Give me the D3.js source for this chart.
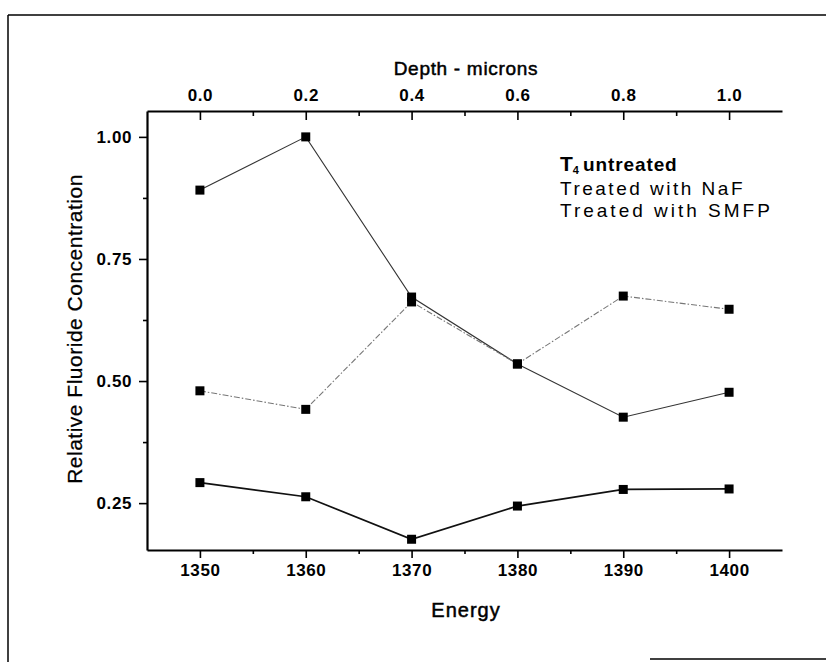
<!DOCTYPE html>
<html>
<head>
<meta charset="utf-8">
<script src="https://cdn.jsdelivr.net/npm/d3@7"></script>
<style>
  html, body { margin: 0; padding: 0; background: #fff; }
  svg { display: block; }
  text { font-family: "Liberation Sans", Arial, Helvetica, sans-serif; fill: #000; }
</style>
</head>
<body>
<svg id="chart" width="826" height="662"></svg>
<script>
// ---- data ----
const energy = [1350, 1360, 1370, 1380, 1390, 1400];
const seriesUpper  = [0.891, 1.000, 0.672, 0.535, 0.426, 0.477];
const seriesMiddle = [0.480, 0.442, 0.662, 0.535, 0.674, 0.647];
const seriesLower  = [0.292, 0.263, 0.176, 0.244, 0.278, 0.279];
const legendLabels = ["untreated", "Treated with NaF", "Treated with SMFP"];
const energyTicks = [1350, 1360, 1370, 1380, 1390, 1400];
const energyMinor = [1355, 1365, 1375, 1385, 1395];
const depthTicks = [0.0, 0.2, 0.4, 0.6, 0.8, 1.0];
const depthMinor = [0.1, 0.3, 0.5, 0.7, 0.9];
const concTicks = [0.25, 0.50, 0.75, 1.00];
const concMinor = [0.375, 0.625, 0.875];

const svg = d3.select("#chart");
const L = 147, R = 782, T = 111, B = 550;

const x = d3.scaleLinear().domain([1345, 1405]).range([L, R]);
const xTop = d3.scaleLinear().domain([-0.1, 1.1]).range([L, R]);
const y = d3.scaleLinear().domain([0.154, 1.053]).range([B, T]);

// outer frame (partial, as in the scanned figure)
const frame = svg.append("g").attr("stroke", "#000").attr("fill", "none");
frame.append("line").attr("x1", 8).attr("y1", 15).attr("x2", 826).attr("y2", 15).attr("stroke-width", 1.5);
frame.append("line").attr("x1", 8).attr("y1", 15).attr("x2", 8).attr("y2", 662).attr("stroke-width", 1.5);
frame.append("line").attr("x1", 650).attr("y1", 659).attr("x2", 826).attr("y2", 659).attr("stroke-width", 1.5);

const tickFont = g => g.selectAll("text")
  .style("font-size", "17px").style("font-weight", "bold").style("letter-spacing", "0.6px");

// bottom axis
svg.append("g").attr("transform", `translate(0,${B})`)
  .call(d3.axisBottom(x).tickValues(energyTicks).tickFormat(d3.format("d")).tickSize(8).tickSizeOuter(0).tickPadding(6))
  .call(tickFont);
svg.append("g").attr("transform", `translate(0,${B})`)
  .call(d3.axisBottom(x).tickValues(energyMinor).tickFormat("").tickSize(4).tickSizeOuter(0))
  .call(g => g.select(".domain").remove());

// top axis (ticks pointing down into plot)
svg.append("g").attr("transform", `translate(0,${T})`)
  .call(d3.axisTop(xTop).tickValues(depthTicks).tickFormat(d3.format(".1f")).tickSize(-9).tickSizeOuter(0).tickPadding(10))
  .call(tickFont);
svg.append("g").attr("transform", `translate(0,${T})`)
  .call(d3.axisTop(xTop).tickValues(depthMinor).tickFormat("").tickSize(-5).tickSizeOuter(0))
  .call(g => g.select(".domain").remove());

// left axis
svg.append("g").attr("transform", `translate(${L},0)`)
  .call(d3.axisLeft(y).tickValues(concTicks).tickFormat(d3.format(".2f")).tickSize(8).tickSizeOuter(0).tickPadding(7))
  .call(tickFont);
svg.append("g").attr("transform", `translate(${L},0)`)
  .call(d3.axisLeft(y).tickValues(concMinor).tickFormat("").tickSize(4).tickSizeOuter(0))
  .call(g => g.select(".domain").remove());

svg.selectAll(".domain").attr("stroke-width", 2.2);
svg.selectAll(".tick line").attr("stroke-width", 1.6);

// axis titles (medium weight imitated with a thin stroke)
svg.append("text").attr("x", 466).attr("y", 617).attr("text-anchor", "middle")
  .style("font-size", "20px").style("letter-spacing", "1px")
  .attr("stroke", "#000").attr("stroke-width", 0.5).text("Energy");
svg.append("text").attr("x", 466).attr("y", 75).attr("text-anchor", "middle")
  .style("font-size", "19px").style("letter-spacing", "0.7px")
  .attr("stroke", "#000").attr("stroke-width", 0.5).text("Depth - microns");
svg.append("text").attr("transform", "translate(82,329) rotate(-90)").attr("text-anchor", "middle")
  .style("font-size", "21px").style("letter-spacing", "0.5px")
  .attr("stroke", "#000").attr("stroke-width", 0.25).text("Relative Fluoride Concentration");

// lines
const line = d3.line().x((d, i) => x(energy[i])).y(d => y(d));
const series = [
  { values: seriesUpper,  stroke: "#333", width: 1.1, dash: null },
  { values: seriesMiddle, stroke: "#777", width: 1.1, dash: "6,2,1.5,2" },
  { values: seriesLower,  stroke: "#111", width: 1.7, dash: null }
];
series.forEach(s => {
  svg.append("path").datum(s.values).attr("d", line)
    .attr("fill", "none").attr("stroke", s.stroke).attr("stroke-width", s.width)
    .attr("stroke-dasharray", s.dash);
});
const ms = 9;
series.forEach(s => {
  svg.append("g").selectAll("rect").data(s.values).join("rect")
    .attr("x", (d, i) => x(energy[i]) - ms / 2).attr("y", d => y(d) - ms / 2)
    .attr("width", ms).attr("height", ms).attr("fill", "#000");
});

// legend (text only)
const lg = svg.append("g").attr("transform", "translate(560,0)");
const t1 = lg.append("text").attr("x", 0).attr("y", 171).style("font-size", "19px").style("font-weight", "bold");
t1.append("tspan").style("font-size", "21px").text("T");
t1.append("tspan").attr("dy", 3).style("font-size", "11px").text("4");
t1.append("tspan").attr("dy", -3).attr("dx", 4).style("letter-spacing", "0.9px").text(legendLabels[0]);
lg.append("text").attr("x", 0).attr("y", 194.5).style("font-size", "19px").style("letter-spacing", "2.5px").text(legendLabels[1]);
lg.append("text").attr("x", 0).attr("y", 217).style("font-size", "19px").style("letter-spacing", "3px").text(legendLabels[2]);
</script>
</body>
</html>
